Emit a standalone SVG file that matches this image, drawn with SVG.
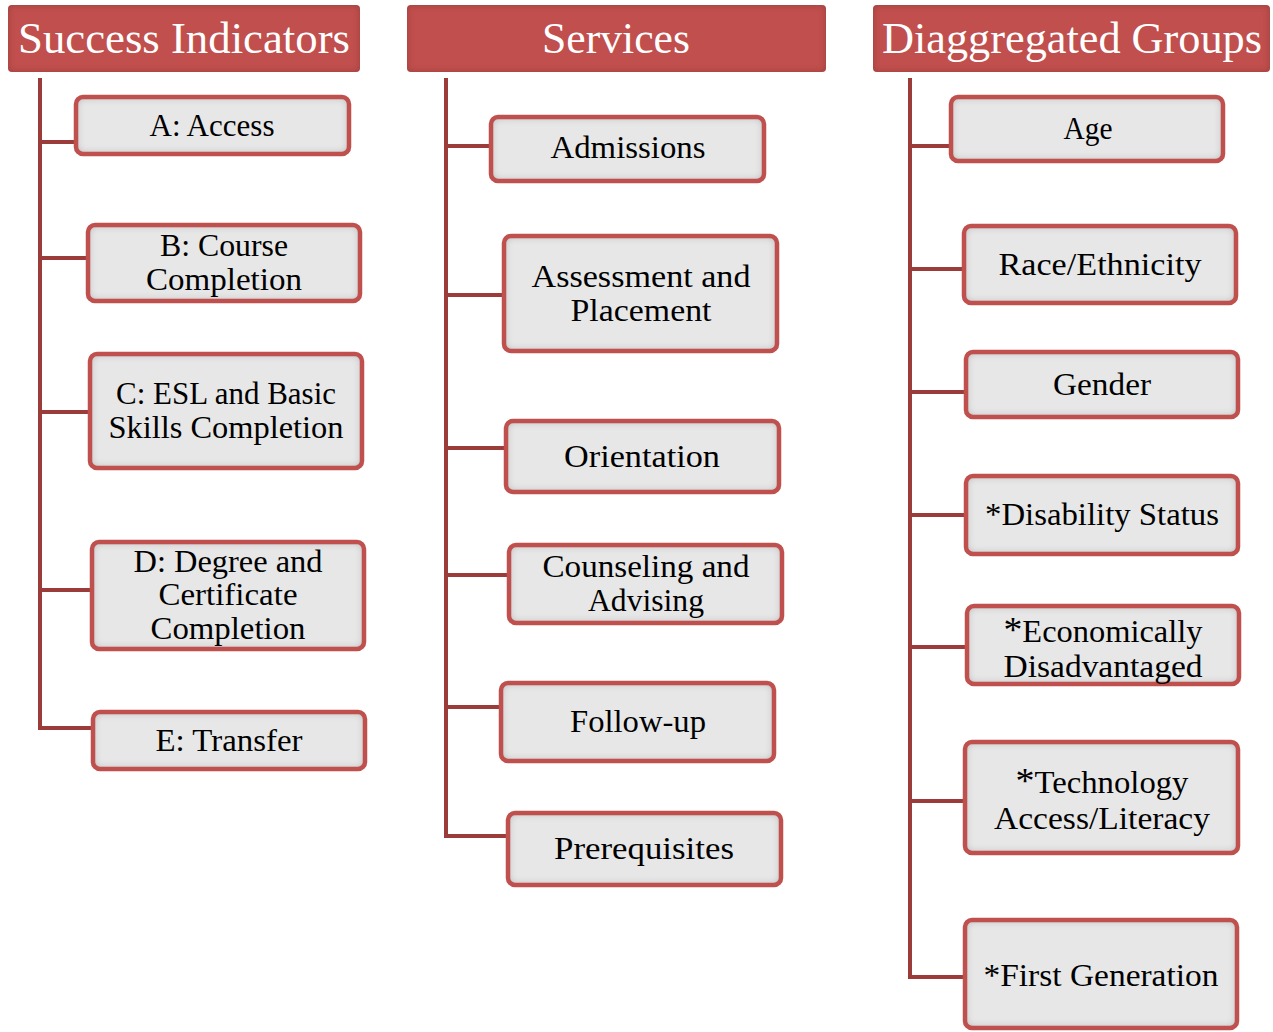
<svg xmlns="http://www.w3.org/2000/svg" width="1273" height="1032" viewBox="0 0 1273 1032">
<style>
.hdr{fill:#c0504d}
.hdrt{font-family:"Liberation Serif",serif;font-size:45px;fill:#ffffff;text-anchor:middle}
.box{fill:#e7e7e7}
.bord{fill:none;stroke:#c0504d;stroke-width:4.5}
.t{font-family:"Liberation Serif",serif;font-size:31px;fill:#000;text-anchor:middle}
.conn{fill:none;stroke:#9b3c3a;stroke-width:4}
</style>
<defs>
<filter id="inset" x="-5%" y="-10%" width="110%" height="120%">
<feFlood flood-color="#000" flood-opacity="0.55" result="f"/>
<feComposite in="f" in2="SourceAlpha" operator="out" result="o"/>
<feGaussianBlur in="o" stdDeviation="4" result="b"/>
<feComposite in="b" in2="SourceAlpha" operator="in" result="s"/>
<feMerge><feMergeNode in="SourceGraphic"/><feMergeNode in="s"/></feMerge>
</filter>
<filter id="insetH" x="-5%" y="-10%" width="110%" height="120%">
<feFlood flood-color="#000" flood-opacity="0.4" result="f"/>
<feComposite in="f" in2="SourceAlpha" operator="out" result="o"/>
<feGaussianBlur in="o" stdDeviation="3" result="b"/>
<feComposite in="b" in2="SourceAlpha" operator="in" result="s"/>
<feMerge><feMergeNode in="SourceGraphic"/><feMergeNode in="s"/></feMerge>
</filter>
</defs>
<rect width="1273" height="1032" fill="#ffffff"/>

<g id="connectors">
<path class="conn" d="M40,78 V728 H93 M40,142 H76 M40,258 H88 M40,412 H90 M40,590 H92"/>
<path class="conn" d="M446,78 V836 H508 M446,146 H491 M446,295 H504 M446,448 H506 M446,575 H509 M446,707 H501"/>
<path class="conn" d="M910,78 V977 H965 M910,146 H951 M910,269 H964 M910,392 H966 M910,515 H966 M910,647 H967 M910,801 H965"/>
</g>

<g id="h-success">
<rect class="hdr" x="8" y="5" width="352" height="67" rx="4" filter="url(#insetH)"/>
<text class="hdrt" x="184" y="53" textLength="332" lengthAdjust="spacingAndGlyphs">Success Indicators</text>
</g>
<g id="h-services">
<rect class="hdr" x="407" y="5" width="419" height="67" rx="4" filter="url(#insetH)"/>
<text class="hdrt" x="616" y="53" textLength="148" lengthAdjust="spacingAndGlyphs">Services</text>
</g>
<g id="h-groups">
<rect class="hdr" x="873" y="5" width="397" height="67" rx="4" filter="url(#insetH)"/>
<text class="hdrt" x="1072" y="53" textLength="380" lengthAdjust="spacingAndGlyphs">Diaggregated Groups</text>
</g>

<g id="n-a">
<rect class="box" x="76" y="97" width="273" height="57" rx="7" filter="url(#inset)"/>
<rect class="bord" x="76" y="97" width="273" height="57" rx="7"/>
<text class="t" x="212" y="136" textLength="125" lengthAdjust="spacingAndGlyphs">A: Access</text>
</g>
<g id="n-b">
<rect class="box" x="88" y="225" width="272" height="76" rx="7" filter="url(#inset)"/>
<rect class="bord" x="88" y="225" width="272" height="76" rx="7"/>
<text class="t" x="224" y="256" textLength="128" lengthAdjust="spacingAndGlyphs">B: Course</text>
<text class="t" x="224" y="290" textLength="156" lengthAdjust="spacingAndGlyphs">Completion</text>
</g>
<g id="n-c">
<rect class="box" x="90" y="354" width="272" height="114" rx="7" filter="url(#inset)"/>
<rect class="bord" x="90" y="354" width="272" height="114" rx="7"/>
<text class="t" x="226" y="404" textLength="220" lengthAdjust="spacingAndGlyphs">C: ESL and Basic</text>
<text class="t" x="226" y="438" textLength="235" lengthAdjust="spacingAndGlyphs">Skills Completion</text>
</g>
<g id="n-d">
<rect class="box" x="92" y="542" width="272" height="107" rx="7" filter="url(#inset)"/>
<rect class="bord" x="92" y="542" width="272" height="107" rx="7"/>
<text class="t" x="228" y="572" textLength="189" lengthAdjust="spacingAndGlyphs">D: Degree and</text>
<text class="t" x="228" y="605" textLength="139" lengthAdjust="spacingAndGlyphs">Certificate</text>
<text class="t" x="228" y="639" textLength="155" lengthAdjust="spacingAndGlyphs">Completion</text>
</g>
<g id="n-e">
<rect class="box" x="93" y="712" width="272" height="57" rx="7" filter="url(#inset)"/>
<rect class="bord" x="93" y="712" width="272" height="57" rx="7"/>
<text class="t" x="229" y="751" textLength="147" lengthAdjust="spacingAndGlyphs">E: Transfer</text>
</g>

<g id="n-admissions">
<rect class="box" x="491" y="117" width="273" height="64" rx="7" filter="url(#inset)"/>
<rect class="bord" x="491" y="117" width="273" height="64" rx="7"/>
<text class="t" x="628" y="158" textLength="155" lengthAdjust="spacingAndGlyphs">Admissions</text>
</g>
<g id="n-assessment">
<rect class="box" x="504" y="236" width="273" height="115" rx="7" filter="url(#inset)"/>
<rect class="bord" x="504" y="236" width="273" height="115" rx="7"/>
<text class="t" x="641" y="287" textLength="219" lengthAdjust="spacingAndGlyphs">Assessment and</text>
<text class="t" x="641" y="321" textLength="141" lengthAdjust="spacingAndGlyphs">Placement</text>
</g>
<g id="n-orientation">
<rect class="box" x="506" y="421" width="273" height="71" rx="7" filter="url(#inset)"/>
<rect class="bord" x="506" y="421" width="273" height="71" rx="7"/>
<text class="t" x="642" y="467" textLength="156" lengthAdjust="spacingAndGlyphs">Orientation</text>
</g>
<g id="n-counseling">
<rect class="box" x="509" y="545" width="273" height="78" rx="7" filter="url(#inset)"/>
<rect class="bord" x="509" y="545" width="273" height="78" rx="7"/>
<text class="t" x="646" y="577" textLength="207" lengthAdjust="spacingAndGlyphs">Counseling and</text>
<text class="t" x="646" y="611" textLength="116" lengthAdjust="spacingAndGlyphs">Advising</text>
</g>
<g id="n-followup">
<rect class="box" x="501" y="683" width="273" height="78" rx="7" filter="url(#inset)"/>
<rect class="bord" x="501" y="683" width="273" height="78" rx="7"/>
<text class="t" x="638" y="732" textLength="136" lengthAdjust="spacingAndGlyphs">Follow-up</text>
</g>
<g id="n-prereq">
<rect class="box" x="508" y="813" width="273" height="72" rx="7" filter="url(#inset)"/>
<rect class="bord" x="508" y="813" width="273" height="72" rx="7"/>
<text class="t" x="644" y="859" textLength="180" lengthAdjust="spacingAndGlyphs">Prerequisites</text>
</g>

<g id="n-age">
<rect class="box" x="951" y="97" width="272" height="64" rx="7" filter="url(#inset)"/>
<rect class="bord" x="951" y="97" width="272" height="64" rx="7"/>
<text class="t" x="1088" y="139" textLength="49" lengthAdjust="spacingAndGlyphs">Age</text>
</g>
<g id="n-race">
<rect class="box" x="964" y="226" width="272" height="77" rx="7" filter="url(#inset)"/>
<rect class="bord" x="964" y="226" width="272" height="77" rx="7"/>
<text class="t" x="1100" y="275" textLength="203" lengthAdjust="spacingAndGlyphs">Race/Ethnicity</text>
</g>
<g id="n-gender">
<rect class="box" x="966" y="352" width="272" height="65" rx="7" filter="url(#inset)"/>
<rect class="bord" x="966" y="352" width="272" height="65" rx="7"/>
<text class="t" x="1102" y="395" textLength="98" lengthAdjust="spacingAndGlyphs">Gender</text>
</g>
<g id="n-disability">
<rect class="box" x="966" y="476" width="272" height="78" rx="7" filter="url(#inset)"/>
<rect class="bord" x="966" y="476" width="272" height="78" rx="7"/>
<text class="t" x="1102" y="525" textLength="234" lengthAdjust="spacingAndGlyphs">*Disability Status</text>
</g>
<g id="n-econ">
<rect class="box" x="967" y="606" width="272" height="78" rx="7" filter="url(#inset)"/>
<rect class="bord" x="967" y="606" width="272" height="78" rx="7"/>
<text class="t" x="1103" y="642" textLength="199" lengthAdjust="spacingAndGlyphs"><tspan font-size="36">*</tspan>Economically</text>
<text class="t" x="1103" y="677" textLength="199" lengthAdjust="spacingAndGlyphs">Disadvantaged</text>
</g>
<g id="n-tech">
<rect class="box" x="965" y="742" width="273" height="111" rx="7" filter="url(#inset)"/>
<rect class="bord" x="965" y="742" width="273" height="111" rx="7"/>
<text class="t" x="1102" y="793" textLength="173" lengthAdjust="spacingAndGlyphs"><tspan font-size="36">*</tspan>Technology</text>
<text class="t" x="1102" y="829" textLength="216" lengthAdjust="spacingAndGlyphs">Access/Literacy</text>
</g>
<g id="n-firstgen">
<rect class="box" x="965" y="920" width="272" height="108" rx="7" filter="url(#inset)"/>
<rect class="bord" x="965" y="920" width="272" height="108" rx="7"/>
<text class="t" x="1101" y="986" textLength="235" lengthAdjust="spacingAndGlyphs">*First Generation</text>
</g>
</svg>
